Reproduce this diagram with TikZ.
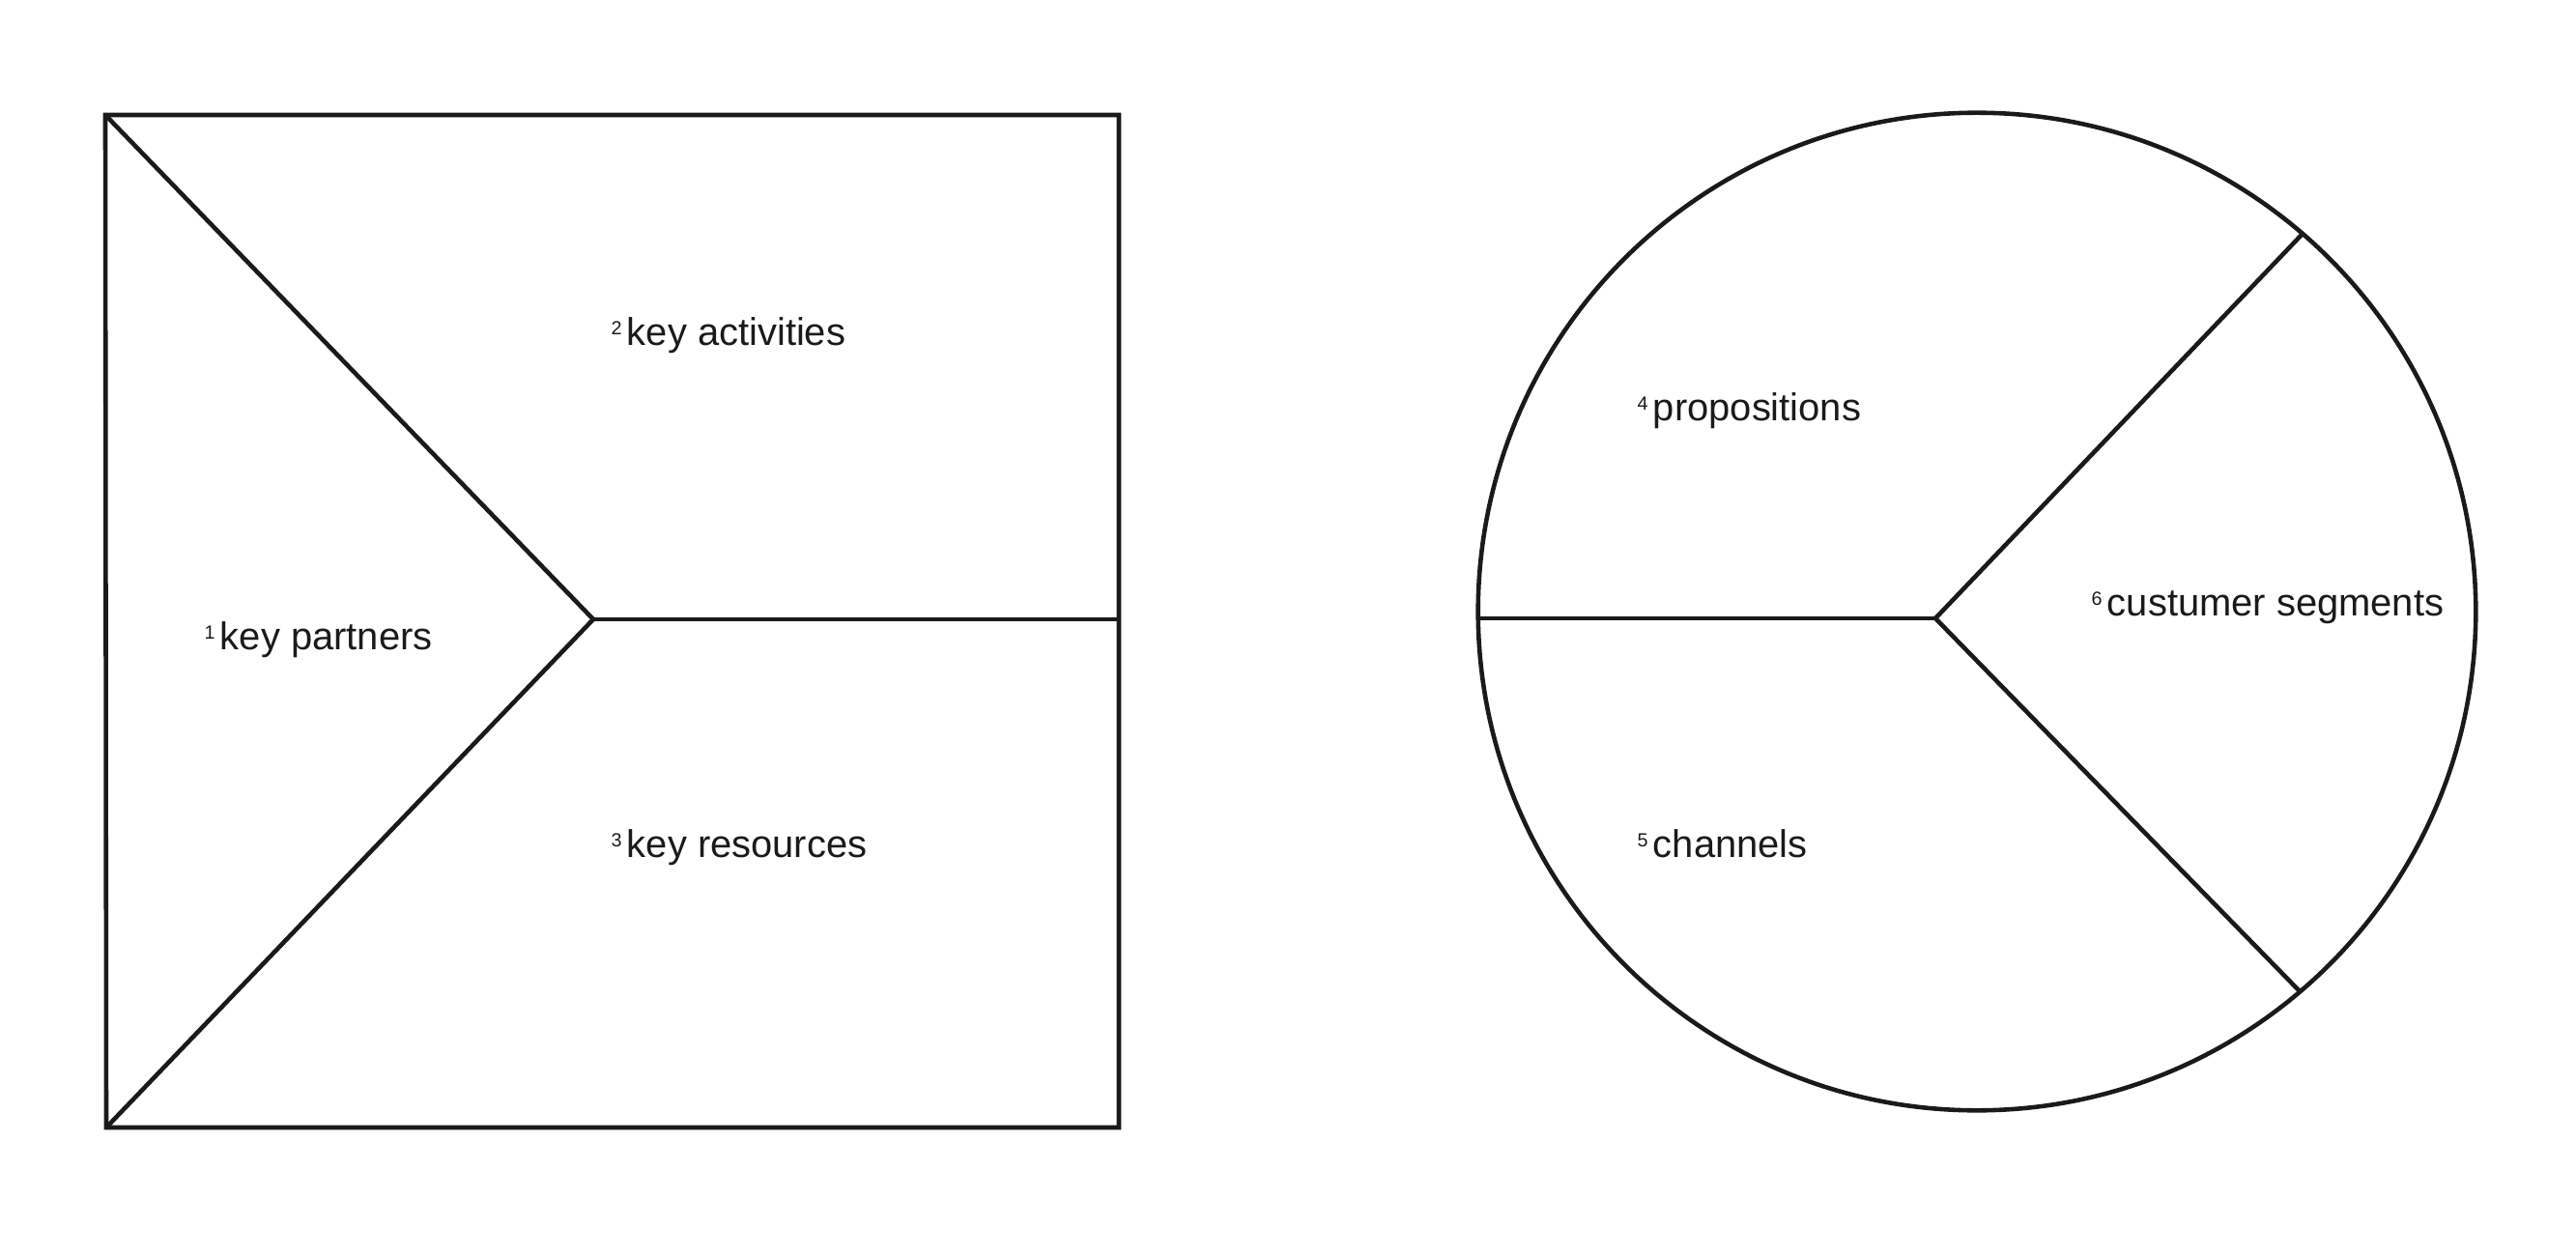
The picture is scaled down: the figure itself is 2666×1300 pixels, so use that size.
\documentclass[tikz,border=0pt]{standalone}
\usepackage{fontspec}
\setmainfont{Liberation Sans}
\definecolor{ink}{HTML}{1A1A1A}
\newcommand{\supnum}[1]{\raisebox{3.0pt}{\fontsize{5.6}{6}\selectfont #1}\hspace{1.5pt}}
\tikzset{
  edge/.style={draw=ink, line width=1.3pt, line join=miter},
  lbl/.style={anchor=base west, inner sep=0pt, text=ink, font=\fontsize{11.35}{13}\selectfont}
}
\begin{document}
\begin{tikzpicture}[x=0.01cm, y=-0.01cm]
\useasboundingbox (0,0) rectangle (2666,1300);
% square
\coordinate (tl) at (109,119);
\coordinate (tr) at (1158,119);
\coordinate (br) at (1158,1167);
\coordinate (bl) at (110,1167);
\coordinate (j1) at (614,641);
\coordinate (mr) at (1158,641);
\draw[edge] (tl) -- (tr) -- (br) -- (bl) -- cycle;
\draw[edge] (tl) -- (j1) -- (bl);
\draw[edge] (j1) -- (mr);
% circle
\coordinate (cc) at (2046,633);
\draw[edge] (cc) circle[radius=5.16cm];
\coordinate (j2) at (2003,640);
\coordinate (cl) at (1530,640);
\coordinate (ctr) at (2382,243);
\coordinate (cbr) at (2381,1027);
\draw[edge] (cl) -- (j2);
\draw[edge] (ctr) -- (j2) -- (cbr);
% labels
\node[lbl] (l1) at (211,672) {\supnum{1}key partners};
\node[lbl] (l2) at (632,357) {\supnum{2}key activities};
\node[lbl] (l3) at (632,887) {\supnum{3}key resources};
\node[lbl] (l4) at (1694,435) {\supnum{4}propositions};
\node[lbl] (l5) at (1694,887) {\supnum{5}channels};
\node[lbl] (l6) at (2164,637) {\supnum{6}custumer segments};
\end{tikzpicture}
\end{document}
